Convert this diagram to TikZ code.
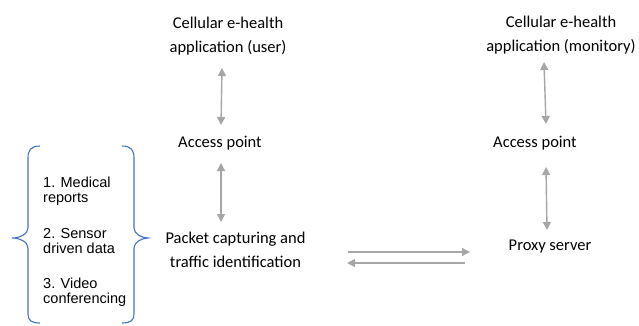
\documentclass[tikz,border=0pt]{standalone}
\usepackage{fontspec}
\setmainfont{Carlito}
\newfontfamily\listfont{Liberation Sans}
\usetikzlibrary{arrows.meta}
\definecolor{linkgray}{HTML}{A6A6A6}
\definecolor{braceblue}{HTML}{4472C4}
\begin{document}
\begin{tikzpicture}[x=1pt,y=-1pt,
  lbl/.style={inner sep=0pt, align=center, anchor=base, font=\fontsize{16.5}{24}\selectfont},
  item/.style={inner sep=0pt, align=left, anchor=base west, font=\listfont\fontsize{14.5}{15}\selectfont},
  link/.style={draw=linkgray, line width=1.4pt, {Triangle[length=8pt,width=8pt]}-{Triangle[length=8pt,width=8pt]}},
  oneway/.style={draw=linkgray, line width=1.4pt, -{Triangle[length=8pt,width=8pt]}},
  brace/.style={draw=braceblue, line width=1.1pt}]
\fill[white] (0,0) rectangle (639,325);
\useasboundingbox (0,0) rectangle (639,325);

% user side (multi-line labels are placed by their last baseline)
\node[lbl] (appU) at (228,52) {Cellular e-health\\application (user)};
\node[lbl] (apU) at (220,147) {Access point};
\node[lbl] (pkt) at (235.5,267) {Packet capturing and\\traffic identification};

% monitoring side
\node[lbl] (appM) at (561,51) {Cellular e-health\\application (monitory)};
\node[lbl] (apM) at (535,147) {Access point};
\node[lbl] (proxy) at (550,250) {Proxy server};

% vertical links
\coordinate (u1a) at (222,68);  \coordinate (u1b) at (221,125);
\coordinate (u2a) at (221,163); \coordinate (u2b) at (221,222);
\coordinate (m1a) at (544,62);  \coordinate (m1b) at (546,124);
\coordinate (m2a) at (546,167); \coordinate (m2b) at (547,230);
\draw[link] (u1a) -- (u1b);
\draw[link] (u2a) -- (u2b);
\draw[link] (m1a) -- (m1b);
\draw[link] (m2a) -- (m2b);

% horizontal links between capture and proxy
\coordinate (h1a) at (348,252); \coordinate (h1b) at (470,252);
\coordinate (h2a) at (465,263); \coordinate (h2b) at (347,263);
\draw[oneway] (h1a) -- (h1b);
\draw[oneway] (h2a) -- (h2b);

% traffic types
\node[item] (t1) at (43,202) {1. Medical\\reports};
\node[item] (t2) at (43,253) {2. Sensor\\driven data};
\node[item] (t3) at (43,303) {3. Video\\conferencing};

% braces around the list
\draw[brace] (40,146) .. controls (31,146) and (28,150) .. (28,158)
  -- (28,228) .. controls (28,234) and (20,238) .. (12,238)
  .. controls (20,238) and (28,242) .. (28,248)
  -- (28,314) .. controls (28,320) and (31,323) .. (40,323);
\draw[brace] (122,146) .. controls (131,146) and (134,150) .. (134,158)
  -- (134,228) .. controls (134,234) and (142,238) .. (148,238)
  .. controls (142,238) and (134,242) .. (134,248)
  -- (134,314) .. controls (134,320) and (131,323) .. (122,323);
\end{tikzpicture}
\end{document}
